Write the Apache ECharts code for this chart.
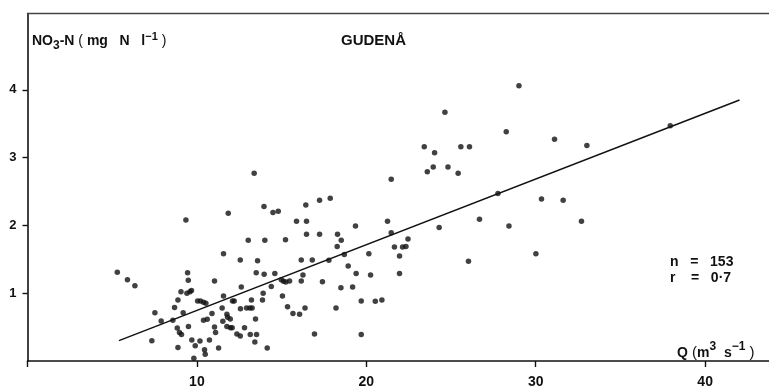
<!DOCTYPE html>
<html>
<head>
<meta charset="utf-8">
<script src="https://cdn.jsdelivr.net/npm/echarts@6/dist/echarts.min.js"></script>
<style>
  html, body { margin: 0; padding: 0; background: #fff; }
  #chart { width: 769px; height: 386px; }
</style>
</head>
<body>
<div id="chart"></div>
<script>
// discharge Q (m3 s-1) and nitrate NO3-N (mg N l-1), one entry per sample
const qValues = [
  11.57, 5.30, 5.90, 6.34, 9.45, 9.49, 11.04, 9.06, 9.41, 9.59, 9.68, 8.88,
  10.04, 10.21, 10.39, 10.53, 11.57, 12.10, 8.68, 7.52, 9.19, 10.89, 11.49, 7.89,
  8.58, 10.39, 10.61, 11.77, 11.81, 11.53, 8.84, 8.97, 9.09, 9.50, 11.04, 11.10,
  11.77, 11.98, 7.34, 9.70, 10.18, 10.74, 9.90, 8.88, 10.45, 10.49, 11.28, 9.82,
  9.35, 11.85,
  12.56, 13.58, 13.50, 13.97, 14.60, 16.16, 16.81, 17.79, 18.70, 20.15, 18.93, 19.40,
  20.25, 16.26, 16.16, 17.41, 14.98, 15.11, 15.25, 15.47, 14.39, 12.62, 13.91, 13.87,
  15.05, 18.50, 19.19, 12.20, 13.22, 12.57, 12.93, 13.13, 13.26, 15.35, 16.38, 15.67,
  16.06, 18.21, 19.70, 20.53, 11.97, 13.46, 12.08, 12.81, 12.36, 12.56, 13.15, 13.52,
  13.42, 14.15, 16.94, 19.70,
  21.96, 21.96, 26.03, 20.92,
  13.38, 13.96, 14.49, 14.80, 16.43, 17.24, 17.87, 15.88, 16.47, 19.36, 13.03, 14.01,
  15.23, 16.47, 17.24, 18.30, 18.52, 18.28,
  24.64, 23.42, 24.03, 25.58, 26.09, 23.95, 23.60, 24.82, 25.42, 21.47, 27.77, 21.25,
  26.68, 21.47, 24.30, 22.46, 21.66, 22.14, 22.34,
  29.01, 28.26, 31.11, 33.02, 37.94, 30.34, 31.62, 28.42, 32.70, 30.01
];
const no3Values = [
  1.58, 1.31, 1.20, 1.11, 1.30, 1.19, 1.18, 1.02, 1.00, 1.02, 1.04, 0.90,
  0.885, 0.885, 0.866, 0.851, 0.96, 0.885, 0.79, 0.71, 0.71, 0.70, 0.78, 0.59,
  0.60, 0.60, 0.615, 0.69, 0.645, 0.585, 0.487, 0.42, 0.39, 0.51, 0.50, 0.42,
  0.51, 0.49, 0.30, 0.31, 0.295, 0.31, 0.226, 0.20, 0.167, 0.10, 0.19, 0.04,
  2.08, 2.18,
  1.49, 1.48, 1.30, 1.28, 1.29, 1.49, 1.49, 1.485, 1.57, 1.58, 1.40, 1.29,
  1.27, 1.27, 1.18, 1.17, 1.20, 1.175, 1.165, 1.18, 1.10, 1.09, 1.00, 0.90,
  0.96, 1.08, 1.09, 0.885, 0.90, 0.77, 0.78, 0.78, 0.78, 0.80, 0.78, 0.70,
  0.69, 0.78, 0.885, 0.88, 0.62, 0.62, 0.49, 0.49, 0.40, 0.37, 0.39, 0.39,
  0.28, 0.19, 0.40, 0.39,
  1.55, 1.29, 1.47, 0.90,
  2.77, 2.28, 2.19, 2.21, 2.30, 2.37, 2.40, 2.06, 2.06, 1.99, 1.78, 1.78,
  1.79, 1.87, 1.87, 1.87, 1.78, 1.69,
  3.67, 3.16, 3.07, 3.16, 3.16, 2.86, 2.79, 2.86, 2.77, 2.68, 2.47, 2.06,
  2.09, 1.89, 1.97, 1.80, 1.68, 1.68, 1.69,
  4.06, 3.38, 3.27, 3.18, 3.47, 2.39, 2.37, 1.99, 2.06, 1.58
];
// fitted regression line, drawn between its two ends
const fitQ = [5.40, 42.03];
const fitNO3 = [0.30, 3.85];

const xTicks = [0, 10, 20, 30, 40];
const xLabels = [10, 20, 30, 40];
const yTicks = [1, 2, 3, 4];

const points = qValues.map((q, i) => [q, no3Values[i]]);
const fitLine = fitQ.map((q, i) => [q, fitNO3[i]]);

const chart = echarts.init(document.getElementById('chart'));
const font = '"Liberation Sans", Arial, sans-serif';
const ink = '#111';

const option = {
  animation: false,
  backgroundColor: '#fff',
  grid: { left: 27.5, right: 0, top: 13.5, bottom: 25, outerBoundsMode: 'none' },
  xAxis: [
    {
      type: 'value',
      min: 0,
      max: 43.77,
      splitLine: { show: false },
      axisLine: { lineStyle: { color: ink, width: 1.6 } },
      axisTick: { customValues: xTicks, length: 6, lineStyle: { color: ink, width: 1.4 } },
      axisLabel: {
        customValues: xLabels,
        margin: 14,
        color: ink,
        fontFamily: font,
        fontWeight: 'bold',
        fontSize: 14
      }
    },
    {
      type: 'value',
      position: 'top',
      min: 0,
      max: 43.77,
      splitLine: { show: false },
      axisTick: { show: false },
      axisLabel: { show: false },
      axisLine: { show: true, lineStyle: { color: '#444', width: 1.3 } }
    }
  ],
  yAxis: {
    type: 'value',
    min: 0,
    max: 5.125,
    splitLine: { show: false },
    axisLine: { show: true, lineStyle: { color: ink, width: 1.6 } },
    axisTick: { customValues: yTicks, length: 5, lineStyle: { color: ink, width: 1.4 } },
    axisLabel: {
      customValues: yTicks,
      margin: 11,
      color: ink,
      fontFamily: font,
      fontWeight: 'bold',
      fontSize: 13
    }
  },
  graphic: [
    {
      type: 'text',
      left: 32,
      top: 31,
      style: {
        text: '{b|NO}{sub|3}{b|-N}{p| ( }{b|mg   N   l}{sup|−1}{p| )}',
        fontFamily: font,
        fill: ink,
        rich: {
          b: { fontSize: 14, fontWeight: 'bold', fontFamily: font, lineHeight: 21, verticalAlign: 'middle' },
          p: { fontSize: 14, fontFamily: font, lineHeight: 21, verticalAlign: 'middle' },
          sub: { fontSize: 12, fontWeight: 'bold', fontFamily: font, lineHeight: 21, verticalAlign: 'bottom' },
          sup: { fontSize: 11, fontWeight: 'bold', fontFamily: font, lineHeight: 21, verticalAlign: 'top' }
        }
      }
    },
    {
      type: 'text',
      left: 341,
      top: 33,
      style: { text: 'GUDENÅ', fontFamily: font, fontWeight: 'bold', fontSize: 15, fill: ink }
    },
    {
      type: 'text',
      left: 670,
      top: 254,
      style: {
        text: 'n   =   153\nr    =   0·7',
        fontFamily: font,
        fontWeight: 'bold',
        fontSize: 14,
        lineHeight: 16,
        fill: ink
      }
    },
    {
      type: 'text',
      left: 677,
      top: 341,
      style: {
        text: '{b|Q}{p| (}{b|m}{sup|3}{b|  s}{sup|−1}{p| )}',
        fontFamily: font,
        fill: ink,
        rich: {
          b: { fontSize: 14, fontWeight: 'bold', fontFamily: font, lineHeight: 19, verticalAlign: 'bottom' },
          p: { fontSize: 15, fontFamily: font, lineHeight: 19, verticalAlign: 'bottom' },
          sup: { fontSize: 12, fontWeight: 'bold', fontFamily: font, lineHeight: 19, verticalAlign: 'top' }
        }
      }
    }
  ],
  series: [
    {
      name: 'samples',
      type: 'scatter',
      data: points,
      symbol: 'circle',
      symbolSize: 5.5,
      itemStyle: { color: ink }
    },
    {
      name: 'fit',
      type: 'line',
      data: fitLine,
      symbol: 'none',
      lineStyle: { color: ink, width: 1.5 }
    }
  ]
};

chart.setOption(option);
</script>
</body>
</html>
